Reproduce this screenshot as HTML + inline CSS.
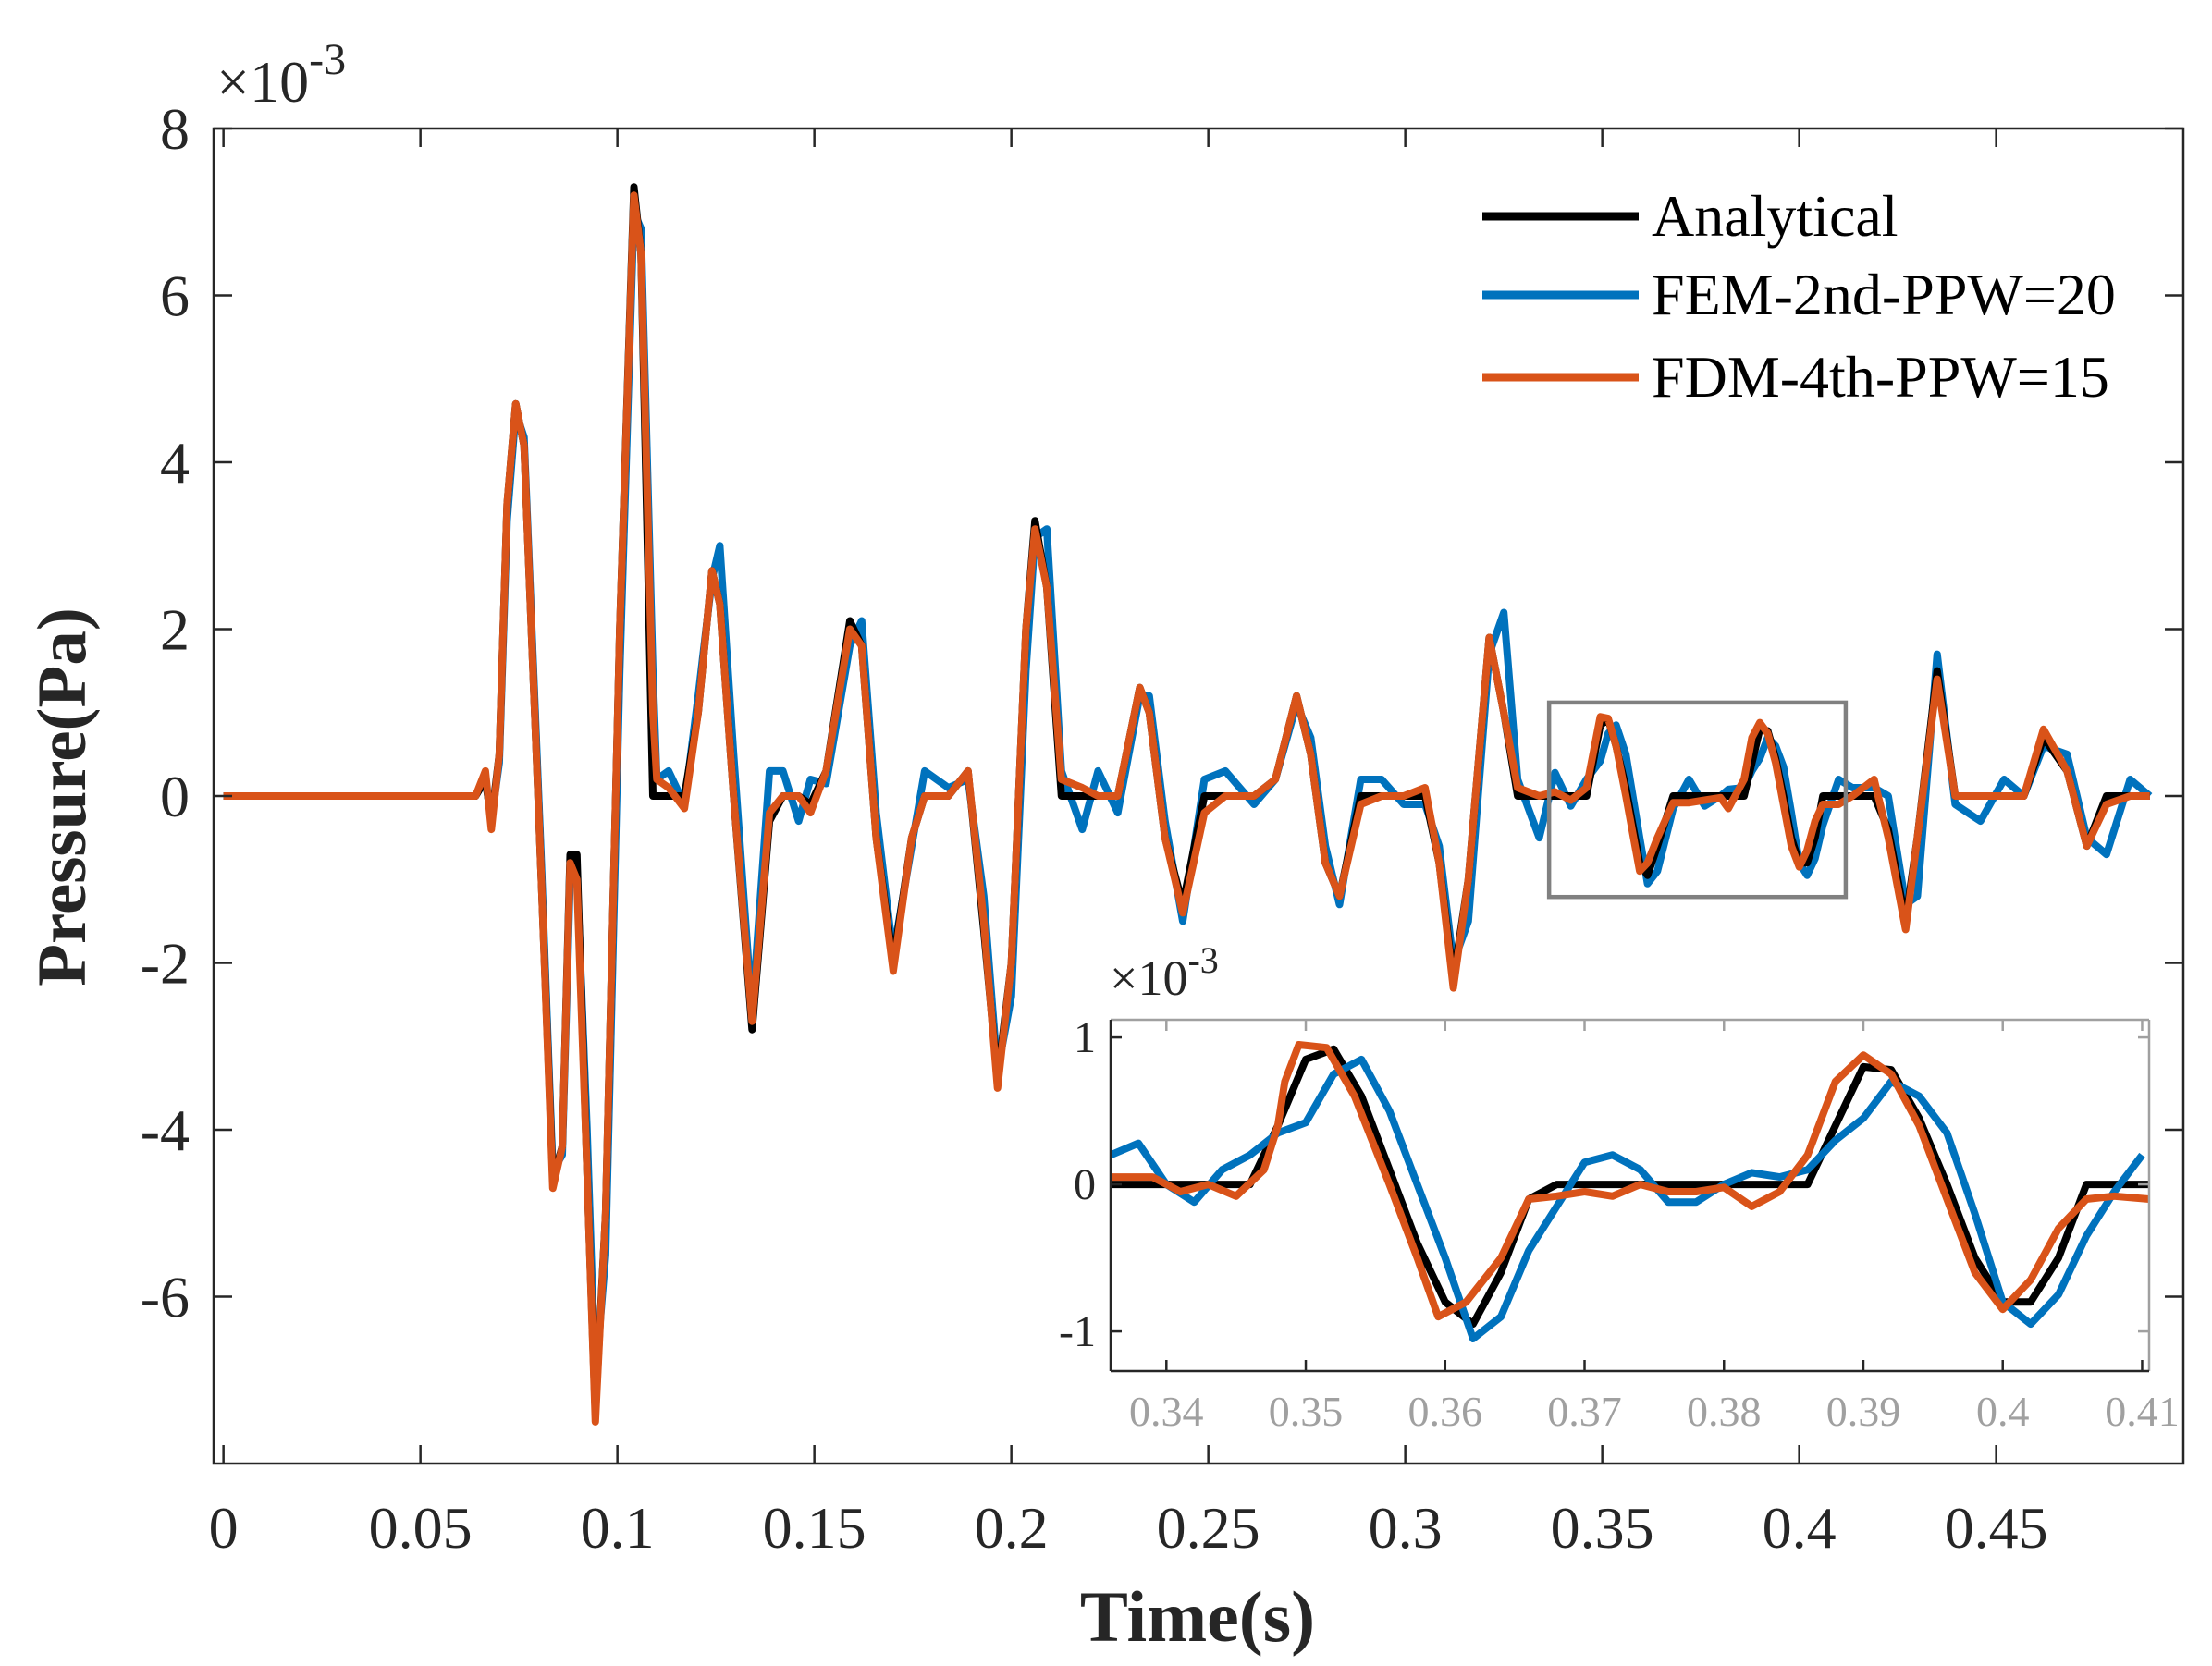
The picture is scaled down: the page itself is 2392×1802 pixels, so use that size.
<!DOCTYPE html>
<html><head><meta charset="utf-8"><style>
html,body{margin:0;padding:0;background:#fff}
svg{display:block}
text{font-family:"Liberation Serif",serif}
</style></head><body>
<svg id="chart" xmlns="http://www.w3.org/2000/svg" width="2392" height="1802" viewBox="0 0 2392 1802">
<rect x="0" y="0" width="2392" height="1802" fill="#fff"/>
<g id="main"></g>
<g id="inset"></g>
</svg>
<script>
// ---------- data (time in s, pressure in 1e-3 Pa) ----------
const tMain=[0,0.064,0.0665,0.068,0.070,0.072,0.0742,0.0763,0.0807,0.0836,0.086,0.088,0.0897,0.0923,0.0944,0.097,0.1006,0.1042,0.106,0.109,0.110,0.113,0.117,0.1205,0.124,0.126,0.1295,0.1342,0.1386,0.142,0.146,0.149,0.153,0.159,0.162,0.1657,0.170,0.1747,0.178,0.184,0.189,0.193,0.1965,0.200,0.2037,0.206,0.209,0.2127,0.218,0.222,0.227,0.2326,0.235,0.239,0.2435,0.249,0.2543,0.2616,0.267,0.2724,0.276,0.2797,0.2833,0.2887,0.294,0.2996,0.305,0.3086,0.3122,0.316,0.3213,0.325,0.3285,0.334,0.338,0.342,0.346,0.3495,0.3515,0.3535,0.356,0.3595,0.3615,0.364,0.368,0.372,0.376,0.380,0.382,0.386,0.388,0.390,0.392,0.394,0.396,0.398,0.400,0.402,0.404,0.406,0.410,0.4135,0.419,0.4226,0.427,0.430,0.435,0.4396,0.446,0.452,0.457,0.462,0.468,0.473,0.478,0.484,0.489,0.4975];
const fdmMain=[0,0,0.3,-0.4,0.5,3.5,4.7,4.2,-1.0,-4.7,-4.2,-0.8,-1.0,-4.5,-7.5,-5.0,2.0,7.2,6.5,1.0,0.2,0.1,-0.15,1.0,2.7,2.3,0,-2.7,-0.2,0,0,-0.2,0.3,2.0,1.8,-0.5,-2.1,-0.5,0,0,0.3,-1.5,-3.5,-2.0,2.0,3.2,2.5,0.2,0.1,0,0,1.3,1.0,-0.5,-1.4,-0.2,0,0,0.2,1.2,0.5,-0.8,-1.2,-0.1,0,0,0.1,-0.8,-2.3,-1.0,1.9,1.0,0.1,0,0.05,-0.05,0.1,0.95,0.93,0.6,0,-0.9,-0.8,-0.5,-0.08,-0.08,-0.05,-0.02,-0.15,0.2,0.7,0.88,0.75,0.4,-0.1,-0.6,-0.85,-0.65,-0.3,-0.1,-0.1,0,0.2,-0.5,-1.6,-0.5,1.4,0,0,0,0,0.8,0.3,-0.6,-0.1,0,0];
const anaMain=[0,0,0.2,-0.3,0.5,3.5,4.7,4.2,-1.0,-4.6,-4.2,-0.7,-0.7,-4.5,-7.4,-5.0,2.0,7.3,6.5,0,0,0,0,1.0,2.7,2.3,0,-2.8,-0.3,0,0,-0.1,0.3,2.1,1.8,-0.5,-2.0,-0.5,0,0,0.3,-1.6,-3.4,-2.0,2.0,3.3,2.5,0,0,0,0,1.3,1.0,-0.5,-1.3,0,0,0,0.2,1.2,0.5,-0.8,-1.2,0,0,0,0,-0.8,-2.2,-1.0,1.9,1.0,0,0,0,0,0,0.85,0.92,0.6,0.1,-0.8,-0.95,-0.6,0,0,0,0,0,0,0.4,0.8,0.78,0.45,0,-0.5,-0.8,-0.8,-0.5,0,0,0,0,-0.4,-1.5,-0.5,1.5,0,0,0,0,0.7,0.3,-0.6,0,0,0];
const femMain=[0,0,0.2,-0.3,0.4,3.3,4.6,4.3,-0.8,-4.5,-4.3,-1.0,-0.9,-4.0,-7.0,-5.5,1.5,7.0,6.8,1.5,0.2,0.3,-0.1,1.2,2.6,3.0,0.5,-2.6,0.3,0.3,-0.3,0.2,0.15,1.8,2.1,-0.2,-1.9,-0.6,0.3,0.1,0.2,-1.2,-3.3,-2.4,1.5,3.1,3.2,0.3,-0.4,0.3,-0.2,1.2,1.2,-0.3,-1.5,0.2,0.3,-0.1,0.2,1.1,0.7,-0.6,-1.3,0.2,0.2,-0.1,-0.1,-0.6,-2.0,-1.5,1.7,2.2,0.2,-0.5,0.28,-0.12,0.2,0.42,0.75,0.85,0.5,-0.5,-1.05,-0.9,-0.15,0.2,-0.12,0,0.08,0.1,0.3,0.45,0.7,0.6,0.35,-0.2,-0.8,-0.95,-0.75,-0.35,0.2,0.1,0.1,0,-1.3,-1.2,1.7,-0.1,-0.3,0.2,0,0.6,0.5,-0.5,-0.7,0.2,0];
// inset series
const tAna=[0.336,0.346,0.348,0.350,0.352,0.354,0.356,0.358,0.360,0.362,0.364,0.366,0.368,0.386,0.388,0.390,0.392,0.394,0.396,0.398,0.400,0.402,0.404,0.406,0.4105];
const anaInset=[0,0,0.4,0.85,0.92,0.6,0.1,-0.4,-0.8,-0.95,-0.6,-0.1,0,0,0.4,0.8,0.78,0.45,0,-0.5,-0.8,-0.8,-0.5,0,0];
const tFem=[0.336,0.338,0.340,0.342,0.344,0.346,0.348,0.350,0.352,0.354,0.356,0.358,0.360,0.362,0.364,0.366,0.368,0.370,0.372,0.374,0.376,0.378,0.380,0.382,0.384,0.386,0.388,0.390,0.392,0.394,0.396,0.398,0.400,0.402,0.404,0.406,0.408,0.410];
const femInset=[0.2,0.28,0,-0.12,0.1,0.2,0.35,0.42,0.75,0.85,0.5,0,-0.5,-1.05,-0.9,-0.45,-0.15,0.15,0.2,0.1,-0.12,-0.12,0,0.08,0.05,0.1,0.3,0.45,0.7,0.6,0.35,-0.2,-0.8,-0.95,-0.75,-0.35,-0.05,0.2];
const tFdm=[0.336,0.339,0.341,0.343,0.345,0.347,0.348,0.3485,0.3495,0.3515,0.3535,0.356,0.358,0.3595,0.3615,0.364,0.366,0.368,0.370,0.372,0.374,0.376,0.378,0.380,0.382,0.384,0.386,0.388,0.390,0.392,0.394,0.396,0.398,0.400,0.402,0.404,0.406,0.408,0.4105];
const fdmInset=[0.05,0.05,-0.05,0,-0.08,0.1,0.4,0.7,0.95,0.93,0.6,0,-0.5,-0.9,-0.8,-0.5,-0.1,-0.08,-0.05,-0.08,0,-0.05,-0.05,-0.02,-0.15,-0.05,0.2,0.7,0.88,0.75,0.4,-0.1,-0.6,-0.85,-0.65,-0.3,-0.1,-0.08,-0.1];
const xTicks=[0,0.05,0.1,0.15,0.2,0.25,0.3,0.35,0.4,0.45];
const xTickLabels=["0","0.05","0.1","0.15","0.2","0.25","0.3","0.35","0.4","0.45"];
const yTicks=[-6,-4,-2,0,2,4,6,8];
const yTickLabels=["-6","-4","-2","0","2","4","6","8"];
const ixTicks=[0.34,0.35,0.36,0.37,0.38,0.39,0.40,0.41];
const ixTickLabels=["0.34","0.35","0.36","0.37","0.38","0.39","0.4","0.41"];
const iyTicks=[-1,0,1];
const iyTickLabels=["-1","0","1"];
const legendLabels=["Analytical","FEM-2nd-PPW=20","FDM-4th-PPW=15"];
const COLORS=["#000000","#0072BD","#D95319"];

const NS="http://www.w3.org/2000/svg";
function mk(tag,attrs,parent,txt){const e=document.createElementNS(NS,tag);for(const k in attrs)e.setAttribute(k,attrs[k]);if(txt!==undefined)e.textContent=txt;parent.appendChild(e);return e;}

// ---------- main axes ----------
const M={l:231,r:2361,t:139,b:1583,x0:-0.0025,x1:0.4975,y0:-8,y1:8};
const sx=v=>M.l+(v-M.x0)/(M.x1-M.x0)*(M.r-M.l);
const sy=v=>M.b-(v-M.y0)/(M.y1-M.y0)*(M.b-M.t);
const g=document.getElementById('main');
function pathOf(ts,vs,fx,fy){return ts.map((t,i)=>(i?'L':'M')+fx(t).toFixed(1)+','+fy(vs[i]).toFixed(1)).join('');}

const series=[[anaMain,'analytical-line'],[femMain,'fem-line'],[fdmMain,'fdm-line']];
[1,0,2].forEach(i=>{
  const p=mk('path',{d:pathOf(tMain,series[i][0],sx,sy),fill:'none',stroke:COLORS[i],'stroke-width':8,'stroke-linejoin':'round'},g);
  
  
});
const box=mk('rect',{x:M.l,y:M.t,width:M.r-M.l,height:M.b-M.t,fill:'none',stroke:'#262626','stroke-width':2.5},g);

xTicks.forEach((v,i)=>{
  const x=sx(v);
  mk('line',{x1:x,y1:M.b,x2:x,y2:M.b-20,stroke:'#262626','stroke-width':2.5},g);
  mk('line',{x1:x,y1:M.t,x2:x,y2:M.t+20,stroke:'#262626','stroke-width':2.5},g);
  const t=mk('text',{x:x,y:1674,'text-anchor':'middle','font-size':64,fill:'#262626'},g,xTickLabels[i]);
  
});
yTicks.forEach((v,i)=>{
  const y=sy(v);
  mk('line',{x1:M.l,y1:y,x2:M.l+20,y2:y,stroke:'#262626','stroke-width':2.5},g);
  mk('line',{x1:M.r,y1:y,x2:M.r-20,y2:y,stroke:'#262626','stroke-width':2.5},g);
  const t=mk('text',{x:205,y:y+22,'text-anchor':'end','font-size':64,fill:'#262626'},g,yTickLabels[i]);
  
});
let e=mk('text',{x:234,y:110,'font-size':64,fill:'#262626'},g);
e.innerHTML='×10<tspan dy="-30" font-size="48">-3</tspan>';

e=mk('text',{x:1295,y:1775,'text-anchor':'middle','font-size':78,'font-weight':'bold',fill:'#262626'},g,'Time(s)');

e=mk('text',{x:0,y:0,'text-anchor':'middle','font-size':75,'font-weight':'bold',fill:'#262626',transform:'translate(92,862) rotate(-90)'},g,'Pressure(Pa)');

e=mk('rect',{x:sx(0.3365),y:sy(1.12),width:sx(0.4118)-sx(0.3365),height:sy(-1.21)-sy(1.12),fill:'none',stroke:'#808080','stroke-width':4.5},g);

const ly=[234,319,408];
legendLabels.forEach((lab,i)=>{
  const le=mk('g',{},g);
  
  mk('line',{x1:1603,y1:ly[i],x2:1772,y2:ly[i],stroke:COLORS[i],'stroke-width':9},le);
  mk('text',{x:1786,y:ly[i]+21,'font-size':64,fill:'#000'},le,lab);
});

// ---------- inset ----------
const I={l:1201,r:2324,t:1103,b:1483,x0:0.336,x1:0.4105,y0:-1.27,y1:1.12};
const ix=v=>I.l+(v-I.x0)/(I.x1-I.x0)*(I.r-I.l);
const iy=v=>I.b-(v-I.y0)/(I.y1-I.y0)*(I.b-I.t);
const gi=document.getElementById('inset');
mk('rect',{x:I.l,y:I.t,width:I.r-I.l,height:I.b-I.t,fill:'#fff'},gi);
const clip=mk('clipPath',{id:'ic'},gi);mk('rect',{x:I.l,y:I.t,width:I.r-I.l,height:I.b-I.t},clip);
const ig=mk('g',{'clip-path':'url(#ic)'},gi);
[[tAna,anaInset,0,'inset-analytical-line'],[tFem,femInset,1,'inset-fem-line'],[tFdm,fdmInset,2,'inset-fdm-line']].forEach(([ts,vs,c,n])=>{
  const p=mk('path',{d:pathOf(ts,vs,ix,iy),fill:'none',stroke:COLORS[c],'stroke-width':8,'stroke-linejoin':'round'},ig);
  
  
});
mk('line',{x1:I.l,y1:I.t,x2:I.r,y2:I.t,stroke:'#a0a0a0','stroke-width':2.5},gi);
mk('line',{x1:I.r,y1:I.t,x2:I.r,y2:I.b,stroke:'#a0a0a0','stroke-width':2.5},gi);
mk('line',{x1:I.l,y1:I.b,x2:I.r,y2:I.b,stroke:'#262626','stroke-width':2.5},gi);
mk('line',{x1:I.l,y1:I.t,x2:I.l,y2:I.b,stroke:'#262626','stroke-width':2.5},gi);
ixTicks.forEach((v,i)=>{
  const x=ix(v);
  mk('line',{x1:x,y1:I.b,x2:x,y2:I.b-12,stroke:'#262626','stroke-width':2.5},gi);
  mk('line',{x1:x,y1:I.t,x2:x,y2:I.t+12,stroke:'#a0a0a0','stroke-width':2.5},gi);
  const t=mk('text',{x:x,y:1542,'text-anchor':'middle','font-size':46,fill:'#a0a0a0'},gi,ixTickLabels[i]);
  
});
iyTicks.forEach((v,i)=>{
  const y=iy(v);
  mk('line',{x1:I.l,y1:y,x2:I.l+12,y2:y,stroke:'#262626','stroke-width':2.5},gi);
  mk('line',{x1:I.r,y1:y,x2:I.r-12,y2:y,stroke:'#a0a0a0','stroke-width':2.5},gi);
  const t=mk('text',{x:1185,y:y+16,'text-anchor':'end','font-size':48,fill:'#262626'},gi,iyTickLabels[i]);
  
});
e=mk('text',{x:1200,y:1076,'font-size':54,fill:'#262626'},gi);
e.innerHTML='×10<tspan dy="-24" font-size="40">-3</tspan>';

</script>
</body></html>
